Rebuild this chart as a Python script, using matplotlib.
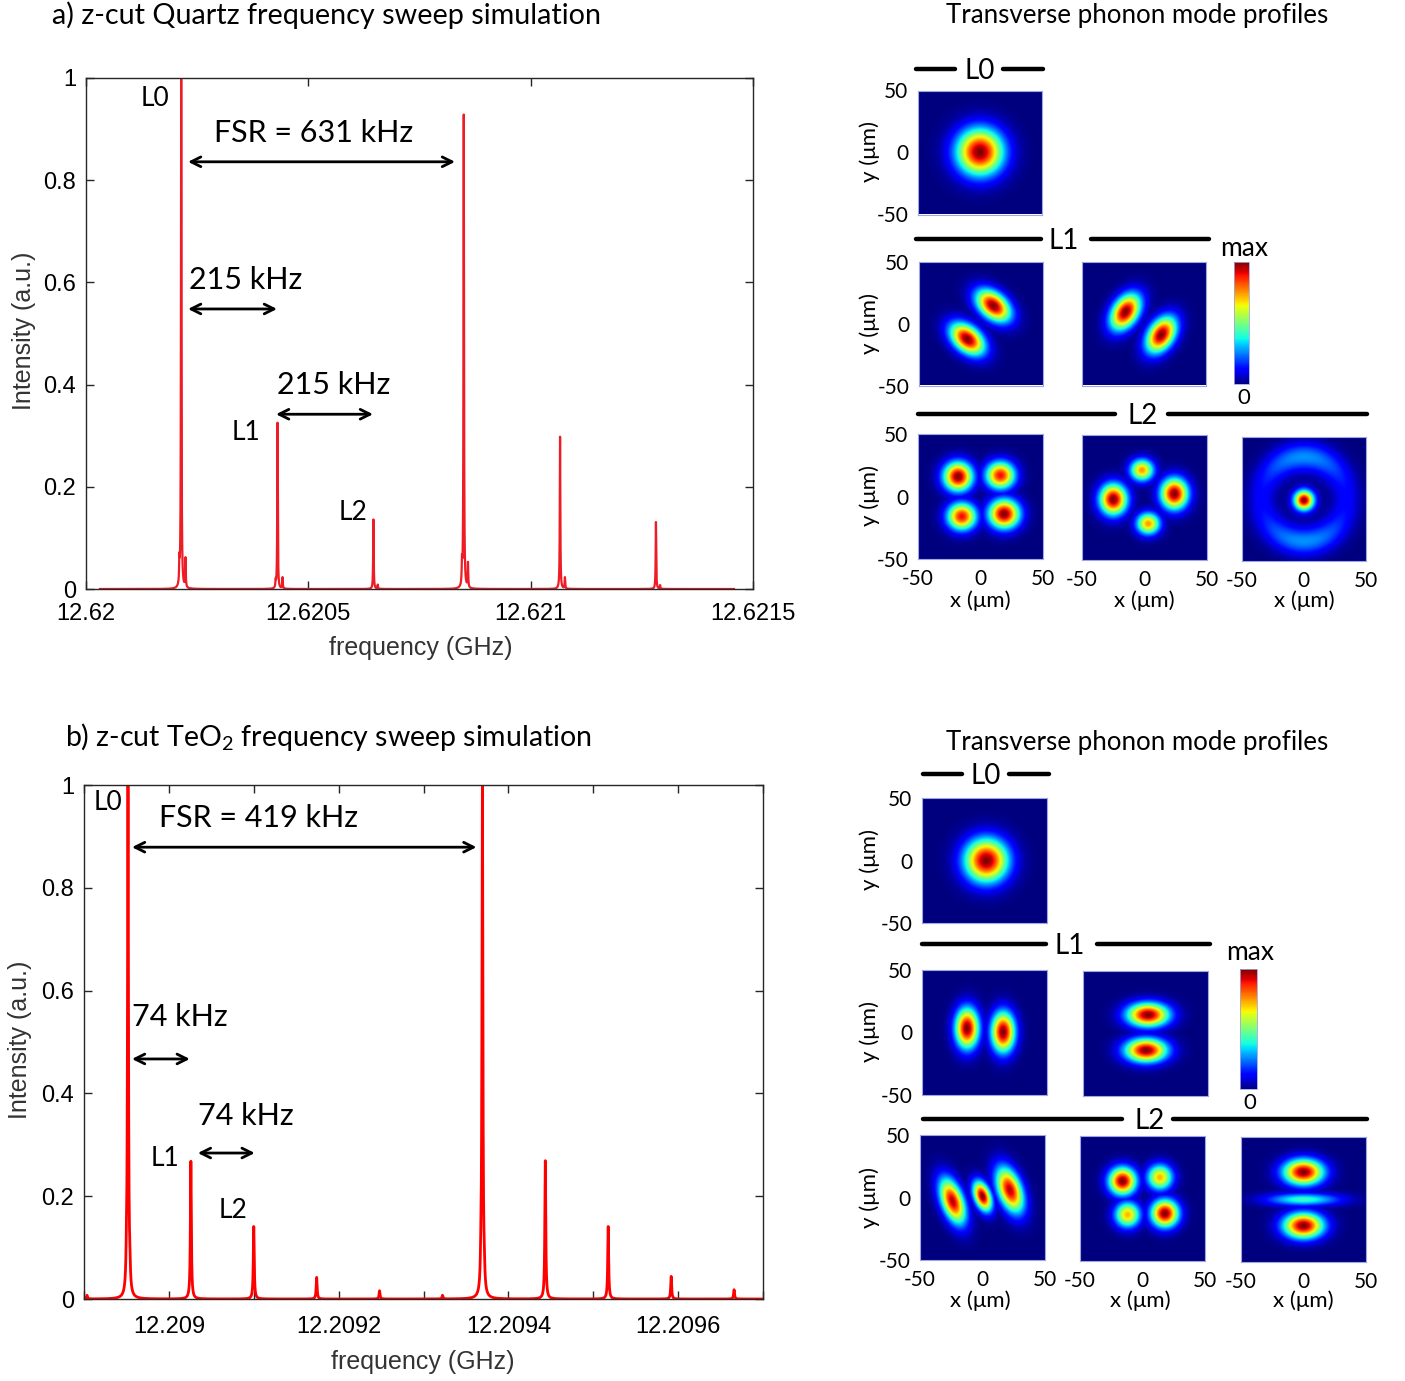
import numpy as np
import matplotlib
matplotlib.use("Agg")
import matplotlib.pyplot as plt
from matplotlib.lines import Line2D
from matplotlib.ticker import FixedLocator, FuncFormatter
import matplotlib.cm as cm
from matplotlib.colors import Normalize

# ======================= DATA =======================
# (a) z-cut quartz frequency sweep: resonance centres (GHz) and peak intensities
quartz_peak_ghz = [12.6202141, 12.6202238, 12.6202100,
                   12.6204307, 12.6204420, 12.6204265,
                   12.6206464, 12.6206560,
                   12.6208495, 12.6208590, 12.6208455,
                   12.6210661, 12.6210770,
                   12.6212817, 12.6212910]
quartz_peak_height = [1.0, 0.057, 0.043,
                      0.325, 0.022, 0.013,
                      0.136, 0.008,
                      0.927, 0.048, 0.040,
                      0.298, 0.022,
                      0.131, 0.007]
quartz_hwhm_ghz = 0.7e-6
quartz_sweep_ghz = [12.6200315, 12.6214573]
quartz_xlim = [12.62, 12.6215]
quartz_xticks = [12.62, 12.6205, 12.621, 12.6215]

# (b) z-cut TeO2 frequency sweep
teo2_peak_ghz = [12.2089035, 12.2089518, 12.2089500, 12.2089540,
                 12.2090259, 12.2091000, 12.2091741, 12.2092482, 12.2093224,
                 12.2093694, 12.2093676, 12.2093716,
                 12.2094435, 12.2095176, 12.2095918, 12.2096659]
teo2_peak_height = [0.007, 1.0, 0.035, 0.03,
                    0.268, 0.141, 0.042, 0.016, 0.007,
                    1.0, 0.035, 0.03,
                    0.269, 0.141, 0.044, 0.018]
teo2_hwhm_ghz = 0.65e-6
teo2_sweep_ghz = [12.2089, 12.2097]
teo2_xlim = [12.2089, 12.2097]
teo2_xticks_major = [12.209, 12.2092, 12.2094, 12.2096]
teo2_xticks_minor = [12.2089, 12.2091, 12.2093, 12.2095, 12.2097]

intensity_ticks = [0, 0.2, 0.4, 0.6, 0.8, 1]
mode_ticks = [-50, 0, 50]

# Transverse mode profiles: lobes (x0, y0, sigma_major, sigma_minor, angle_deg, amplitude) in um
quartz_L0 = [(0, 0, 13, 13, 0, 1.0)]
quartz_L1a = [(10, 14, 11, 7, -40, 1.0), (-11, -13, 11, 7, -40, 1.0)]
quartz_L1b = [(-15, 9, 11, 7, 57, 1.0), (14, -9.5, 11, 7, 57, 1.0)]
quartz_L2a = [(-18, 16, 8, 8, 0, 1.0), (16, 17, 8, 7.5, 0, 0.9),
              (-15, -16, 8, 7.5, 0, 0.9), (19, -14, 8.5, 8, 0, 1.0)]
quartz_L2b = [(-2, 22, 6.5, 6.0, 0, 0.75), (3, -21, 6.5, 6.0, 0, 0.75),
              (-25, -1.5, 8.5, 7.5, 90, 1.0), (24, 3, 8.5, 7.5, 90, 1.0)]
quartz_L2c = [(0, -1, 5.5, 5.5, 0, 1.0)]
# ring: (radius, width, amplitude, top/bottom emphasis)
quartz_L2c_ring = [(34, 8, 0.27, 0.55)]

teo2_L0 = [(1.5, 0, 12, 12, 0, 1.0)]
teo2_L1a = [(-14, 3, 11, 6.5, 90, 1.0), (15, 0, 11, 6.5, 90, 1.0)]
teo2_L1b = [(2, 15, 11.5, 6.5, 0, 1.0), (0.5, -13.5, 11.5, 6.5, 0, 1.0)]
teo2_L2a = [(-24, -3, 13, 6, 110, 0.95), (0, 1, 8.5, 4.5, 110, 1.0),
            (22, 6, 13, 6.5, 110, 0.95)]
teo2_L2b = [(-16, 14, 7.5, 7.5, 0, 1.0), (14, 17, 7, 7, 0, 0.72),
            (-12, -13, 7, 7, 0, 0.72), (18, -12, 7.5, 7.5, 0, 1.0)]
teo2_L2c = [(0, 22, 11, 7, 0, 1.0), (0, -21, 11, 7, 0, 1.0),
            (0, 0, 20, 3.5, 0, 0.42)]

# ======================= STYLE =======================
W, H = 1405, 1381
MYR = ["Lato", "DejaVu Sans"]
ARL = ["Liberation Sans", "DejaVu Sans"]
plt.rcParams["font.family"] = MYR
plt.rcParams["axes.unicode_minus"] = False
plt.rcParams["mathtext.fontset"] = "custom"
plt.rcParams["mathtext.rm"] = "Lato"
plt.rcParams["mathtext.it"] = "Lato:italic"
AXC = "#262626"

fig = plt.figure(figsize=(W / 100, H / 100), dpi=100)


def px_axes(x0, y0, x1, y1):
    return fig.add_axes([x0 / W, 1 - y1 / H, (x1 - x0) / W, (y1 - y0) / H])


def ftext(x, y, s, **kw):
    return fig.text(x / W, 1 - y / H, s, **kw)


def spectrum(centres, heights, hwhm, sweep, n=40000):
    f = np.linspace(sweep[0], sweep[1], n)
    c = np.asarray(centres)[:, None]
    h = np.asarray(heights)[:, None]
    return f, (h / (1 + ((f[None, :] - c) / hwhm) ** 2)).sum(axis=0)


def style_spec(ax, xlim, major, minor=None, lab_size=16, pad_x=11):
    ax.set_xlim(*xlim)
    ax.set_ylim(0, 1)
    ax.xaxis.set_major_locator(FixedLocator(major))
    if minor is not None:
        ax.xaxis.set_minor_locator(FixedLocator(minor))
    ax.xaxis.set_major_formatter(FuncFormatter(lambda v, p: "%g" % round(v, 6)))
    ax.yaxis.set_major_locator(FixedLocator(intensity_ticks))
    ax.yaxis.set_major_formatter(FuncFormatter(lambda v, p: "%g" % round(v, 3)))
    ax.tick_params(which="both", direction="in", length=6, width=1, color=AXC,
                   top=True, right=True, labelsize=lab_size, labelcolor="black")
    ax.tick_params(axis="x", which="both", pad=pad_x)
    ax.tick_params(axis="y", pad=7)
    for lab in ax.get_xticklabels() + ax.get_yticklabels():
        lab.set_family(ARL)
    for s in ax.spines.values():
        s.set_color(AXC)
        s.set_linewidth(1.0)


def arrow(ax, x0, x1, y):
    ax.annotate("", xy=(x1, y), xytext=(x0, y),
                arrowprops=dict(arrowstyle="<->,head_length=0.7,head_width=0.35",
                                color="black", lw=2.0, shrinkA=0, shrinkB=0))


# ---------------- (a) quartz spectrum ----------------
axa = px_axes(86, 78, 753, 589)
fq, iq = spectrum(quartz_peak_ghz, quartz_peak_height, quartz_hwhm_ghz, quartz_sweep_ghz)
axa.plot(fq, iq, color="#ee1c24", lw=1.6)
style_spec(axa, quartz_xlim, quartz_xticks, lab_size=17, pad_x=10)
axa.set_xlabel("frequency (GHz)", fontsize=18, family=ARL, color="#333333")
axa.xaxis.set_label_coords(0.502, -0.092)
axa.set_ylabel("Intensity (a.u.)", fontsize=18, family=ARL, color="#333333")
axa.yaxis.set_label_coords(-0.075, 0.505)

axa.text(12.6201552, 0.959, "L0", fontsize=19, ha="center", va="center")
axa.text(12.6205128, 0.892, "FSR = 631 kHz", fontsize=22, ha="center", va="center")
arrow(axa, 12.6202294, 12.6208299, 0.836)
axa.text(12.6202316, 0.605, "215 kHz", fontsize=22, ha="left", va="center")
arrow(axa, 12.6202294, 12.6204296, 0.548)
axa.text(12.6204296, 0.399, "215 kHz", fontsize=22, ha="left", va="center")
arrow(axa, 12.6204273, 12.6206455, 0.342)
axa.text(12.6203598, 0.307, "L1", fontsize=19, ha="center", va="center")
axa.text(12.6206005, 0.149, "L2", fontsize=19, ha="center", va="center")

ftext(52, 15, "a) z-cut Quartz frequency sweep simulation", fontsize=20.7,
      ha="left", va="center")

# ---------------- (b) TeO2 spectrum ----------------
axb = px_axes(84, 785, 763, 1299)
ft, it = spectrum(teo2_peak_ghz, teo2_peak_height, teo2_hwhm_ghz, teo2_sweep_ghz)
axb.plot(ft, it, color="#ff0000", lw=2.0)
style_spec(axb, teo2_xlim, teo2_xticks_major, teo2_xticks_minor, lab_size=17, pad_x=12)
axb.set_xlabel("frequency (GHz)", fontsize=18, family=ARL, color="#333333")
axb.xaxis.set_label_coords(0.499, -0.099)
axb.set_ylabel("Intensity (a.u.)", fontsize=18, family=ARL, color="#333333")
axb.yaxis.set_label_coords(-0.077, 0.504)

axb.text(12.2089282, 0.965, "L0", fontsize=19, ha="center", va="center")
axb.text(12.2089882, 0.936, "FSR = 419 kHz", fontsize=22, ha="left", va="center")
arrow(axb, 12.2089565, 12.2093624, 0.879)
axb.text(12.2089565, 0.549, "74 kHz", fontsize=22, ha="left", va="center")
arrow(axb, 12.2089565, 12.2090247, 0.467)
axb.text(12.2090341, 0.356, "74 kHz", fontsize=22, ha="left", va="center")
arrow(axb, 12.2090341, 12.2091012, 0.284)
axb.text(12.2089953, 0.274, "L1", fontsize=19, ha="center", va="center")
axb.text(12.2090753, 0.173, "L2", fontsize=19, ha="center", va="center")

ftext(65, 737, r"b) z-cut TeO$_\mathregular{2}$ frequency sweep simulation", fontsize=20.5,
      ha="left", va="center")

# ---------------- mode profiles ----------------
grid = np.linspace(-50, 50, 241)
GX, GY = np.meshgrid(grid, grid)


def mode_image(lobes, rings=()):
    img = np.zeros_like(GX)
    for (x0, y0, sa, sb, ang, amp) in lobes:
        t = np.deg2rad(ang)
        u = (GX - x0) * np.cos(t) + (GY - y0) * np.sin(t)
        v = -(GX - x0) * np.sin(t) + (GY - y0) * np.cos(t)
        img = np.maximum(img, amp * np.exp(-0.5 * ((u / sa) ** 2 + (v / sb) ** 2)))
    R = np.hypot(GX, GY)
    TH = np.arctan2(GY, GX)
    for (r0, sr, amp, emph) in rings:
        img = img + amp * (1 - emph + emph * np.sin(TH) ** 2) * np.exp(-0.5 * ((R - r0) / sr) ** 2)
    return np.clip(img, 0, 1)


def mode_panel(box, lobes, rings=(), ylab=False, xlab=False):
    ax = px_axes(*box)
    ax.imshow(mode_image(lobes, rings), cmap="jet", vmin=0, vmax=1, origin="lower",
              extent=(-50, 50, -50, 50), interpolation="bilinear")
    ax.set_xticks(mode_ticks)
    ax.set_yticks(mode_ticks)
    ax.tick_params(length=0, labelsize=15, pad=7)
    if not ylab:
        ax.set_yticklabels([])
    if not xlab:
        ax.set_xticklabels([])
    for s in ax.spines.values():
        s.set_color("#9fa6e0")
        s.set_linewidth(0.8)
    return ax


def header(y, xl0, xl1, xt, xr0, xr1, label):
    for a, b in ((xl0, xl1), (xr0, xr1)):
        fig.add_artist(Line2D([a / W, b / W], [1 - y / H, 1 - y / H], color="black",
                              lw=3.2, solid_capstyle="round", transform=fig.transFigure))
    ftext(xt, y + 10, label, fontsize=20, ha="center", va="baseline")


def colorbar_box(box, xc, ytop, ybot):
    cax = px_axes(*box)
    cb = fig.colorbar(cm.ScalarMappable(norm=Normalize(0, 1), cmap="jet"), cax=cax)
    cb.set_ticks([])
    cb.outline.set_edgecolor("#9fa6e0")
    cb.outline.set_linewidth(0.6)
    ftext(xc, ytop, "max", fontsize=19, ha="center", va="center")
    ftext(xc, ybot, "0", fontsize=16, ha="center", va="center")


def ylabel_px(x, y):
    ftext(x, y, "y (μm)", fontsize=16, rotation=90, ha="center", va="center")


def xlabel_px(x, y):
    ftext(x, y, "x (μm)", fontsize=16, ha="center", va="center")


# --- quartz group ---
ftext(1137, 15, "Transverse phonon mode profiles", fontsize=18.6, ha="center", va="center")
header(69, 916, 955, 980, 1003, 1043, "L0")
mode_panel((918, 90, 1042, 215), quartz_L0, ylab=True)
ylabel_px(870, 152)
header(239, 916, 1041, 1064, 1091, 1209, "L1")
mode_panel((919, 261, 1043, 386), quartz_L1a, ylab=True)
mode_panel((1082, 261, 1206, 386), quartz_L1b)
ylabel_px(870, 323)
colorbar_box((1234, 262, 1249, 384), 1244, 248, 398)
header(414, 918, 1115, 1143, 1168, 1367, "L2")
mode_panel((918, 434, 1043, 559), quartz_L2a, ylab=True, xlab=True)
mode_panel((1082, 435, 1207, 560), quartz_L2b, xlab=True)
mode_panel((1241, 437, 1366, 561), quartz_L2c, quartz_L2c_ring, xlab=True)
ylabel_px(870, 496)
for xc in (980, 1144, 1304):
    xlabel_px(xc, 601)

# --- TeO2 group ---
ftext(1137, 742, "Transverse phonon mode profiles", fontsize=18.6, ha="center", va="center")
header(774, 923, 962, 986, 1009, 1049, "L0")
mode_panel((922, 798, 1047, 923), teo2_L0, ylab=True)
ylabel_px(870, 860)
header(944, 922, 1046, 1070, 1097, 1210, "L1")
mode_panel((922, 969, 1047, 1095), teo2_L1a, ylab=True)
mode_panel((1083, 970, 1208, 1096), teo2_L1b)
ylabel_px(870, 1032)
colorbar_box((1240, 969, 1257, 1089), 1250, 953, 1103)
header(1119, 923, 1122, 1150, 1173, 1367, "L2")
mode_panel((920, 1135, 1045, 1260), teo2_L2a, ylab=True, xlab=True)
mode_panel((1080, 1136, 1205, 1261), teo2_L2b, xlab=True)
mode_panel((1240, 1137, 1366, 1262), teo2_L2c, xlab=True)
ylabel_px(870, 1197)
for xc in (980, 1140, 1303):
    xlabel_px(xc, 1301)

fig.savefig("out.png", dpi=100)
